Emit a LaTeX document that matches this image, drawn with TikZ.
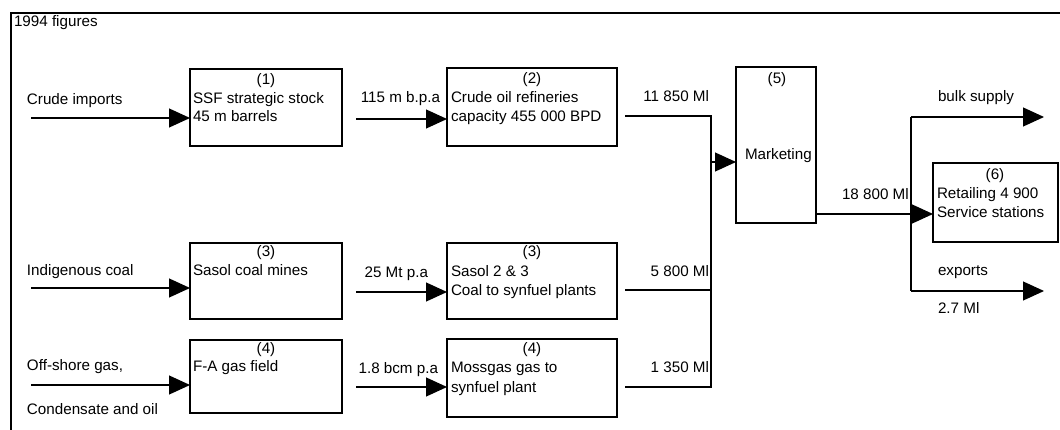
\documentclass[tikz,border=0pt]{standalone}
\usepackage{fontspec}
\setmainfont{Liberation Sans}
\usetikzlibrary{arrows.meta}
\begin{document}
\begin{tikzpicture}[x=1pt,y=-1pt,
  every node/.style={inner sep=0pt,outer sep=0pt,font=\fontsize{15.2}{18}\selectfont},
  box/.style={draw,line width=1.4pt,rectangle,anchor=north west},
  lt/.style={anchor=base west},
  ct/.style={anchor=base},
  rt/.style={anchor=base east},
  flow/.style={line width=1.1pt},
  arr/.style={line width=1.1pt,-{Triangle[length=21pt,width=19pt]}},
  frame/.style={line width=1.2pt}]
\useasboundingbox (0,0) rectangle (1060,430);
% frame
\coordinate (fb) at (11,430);
\coordinate (fc) at (11,13);
\coordinate (fr) at (1060,13);
\draw[frame] (fb) -- (fc) -- (fr);
\node[lt] (title) at (14,27) {1994 figures};

% boxes
\node[box,minimum width=152pt,minimum height=77pt] (b1) at (190,69) {};
\node[box,minimum width=170pt,minimum height=78pt] (b2) at (447,68) {};
\node[box,minimum width=152pt,minimum height=76pt] (b3) at (190,243) {};
\node[box,minimum width=170pt,minimum height=76pt] (b3b) at (447,243) {};
\node[box,minimum width=152pt,minimum height=73pt] (b4) at (190,340) {};
\node[box,minimum width=170pt,minimum height=78pt] (b4b) at (447,339) {};
\node[box,minimum width=80pt,minimum height=156pt] (b5) at (736,67) {};
\node[box,minimum width=125pt,minimum height=79pt] (b6) at (933,163) {};

% box texts
\node[ct] (t1n) at (266,85) {(1)};
\node[lt] (t1a) at (193,104) {SSF strategic stock};
\node[lt] (t1b) at (193,122) {45 m barrels};
\node[ct] (t2n) at (532,84) {(2)};
\node[lt] (t2a) at (451,103) {Crude oil refineries};
\node[lt] (t2b) at (451,122) {capacity 455 000 BPD};
\node[ct] (t3n) at (266,257) {(3)};
\node[lt] (t3a) at (193,276) {Sasol coal mines};
\node[ct] (t3bn) at (532,257) {(3)};
\node[lt] (t3ba) at (451,277) {Sasol 2 \& 3};
\node[lt] (t3bb) at (451,296) {Coal to synfuel plants};
\node[ct] (t4n) at (266,353) {(4)};
\node[lt] (t4a) at (193,371) {F-A gas field};
\node[ct] (t4bn) at (532,353) {(4)};
\node[lt] (t4ba) at (451,372) {Mossgas gas to};
\node[lt] (t4bb) at (451,392) {synfuel plant};
\node[ct] (t5n) at (777,84) {(5)};
\node[lt] (t5a) at (745,160) {Marketing};
\node[ct] (t6n) at (995,180) {(6)};
\node[lt] (t6a) at (937,199) {Retailing 4 900};
\node[lt] (t6b) at (937,218) {Service stations};

% left inputs
\node[lt] (lci) at (27,105) {Crude imports};
\node[lt] (lic) at (27,276) {Indigenous coal};
\node[lt] (los) at (27,370) {Off-shore gas,};
\node[lt] (lco) at (27,414) {Condensate and oil};
\coordinate (s1) at (31,118);
\coordinate (s2) at (31,288);
\coordinate (s3) at (31,385);
\draw[arr] (s1) -- (s1 -| b1.west);
\draw[arr] (s2) -- (s2 -| b3.west);
\draw[arr] (s3) -- (s3 -| b4.west);

% middle
\node[rt] (l115) at (440,103) {115 m b.p.a};
\node[rt] (l25) at (428,278) {25 Mt p.a};
\node[rt] (l18) at (438,373) {1.8 bcm p.a};
\coordinate (m1) at (356,119);
\coordinate (m2) at (356,292);
\coordinate (m3) at (356,387);
\draw[arr] (m1) -- (m1 -| b2.west);
\draw[arr] (m2) -- (m2 -| b3b.west);
\draw[arr] (m3) -- (m3 -| b4b.west);

% collector
\node[rt] (l11850) at (709,102) {11 850 Ml};
\node[rt] (l5800) at (709,277) {5 800 Ml};
\node[rt] (l1350) at (709,372) {1 350 Ml};
\coordinate (o2) at (625,116);
\coordinate (o3) at (625,290);
\coordinate (o4) at (625,387);
\coordinate (jt) at (711,116);
\coordinate (jb) at (711,387);
\coordinate (jm) at (711,162);
\draw[flow] (o2) -- (jt) -- (jb) -- (o4);
\draw[flow] (o3) -- (o3 -| jt);
\draw[arr] (jm) -- (jm -| b5.west);

% output
\node[lt] (l18800) at (842,200) {18 800 Ml};
\coordinate (mo) at (816,214);
\draw[arr] (mo) -- (mo -| b6.west);
\coordinate (bt) at (911,117);
\coordinate (bb) at (911,291);
\coordinate (be) at (1044,117);
\coordinate (ee) at (1044,291);
\draw[flow] (bt) -- (bb);
\draw[arr] (bt) -- (be);
\draw[arr] (bb) -- (ee);
\node[lt] (lbulk) at (938,102) {bulk supply};
\node[lt] (lexp) at (938,276) {exports};
\node[lt] (l27) at (938,313) {2.7 Ml};
\end{tikzpicture}
\end{document}
